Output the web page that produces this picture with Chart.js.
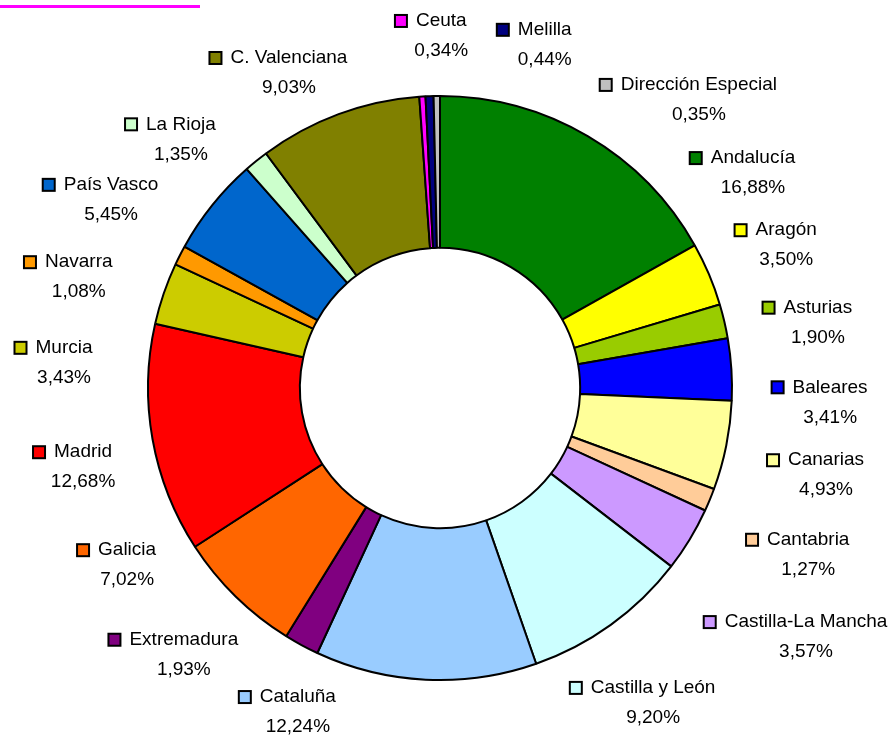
<!DOCTYPE html>
<html>
<head>
<meta charset="utf-8">
<script src="https://cdn.jsdelivr.net/npm/chart.js@4.4.1/dist/chart.umd.min.js"></script>
<style>
  body { margin: 0; background: #fff; }
  #wrap { position: relative; width: 894px; height: 736px; }
  #topLine { position: absolute; left: 0; top: 5px; width: 200px; height: 3px; background: #ff00ff; }
</style>
</head>
<body>
<div id="wrap">
  <div id="topLine"></div>
  <canvas id="chart" width="894" height="736"></canvas>
</div>
<script>
const regiones = ['Andalucía', 'Aragón', 'Asturias', 'Baleares', 'Canarias', 'Cantabria',
  'Castilla-La Mancha', 'Castilla y León', 'Cataluña', 'Extremadura', 'Galicia', 'Madrid',
  'Murcia', 'Navarra', 'País Vasco', 'La Rioja', 'C. Valenciana', 'Ceuta', 'Melilla',
  'Dirección Especial'];
const porcentajes = [16.88, 3.50, 1.90, 3.41, 4.93, 1.27, 3.57, 9.20, 12.24, 1.93, 7.02, 12.68,
  3.43, 1.08, 5.45, 1.35, 9.03, 0.34, 0.44, 0.35];
const colores = ['#008000', '#ffff00', '#99cc00', '#0000ff', '#ffff99', '#ffcc99', '#cc99ff',
  '#ccffff', '#99ccff', '#800080', '#ff6600', '#ff0000', '#cccc00', '#ff9900', '#0066cc',
  '#ccffcc', '#808000', '#ff00ff', '#000080', '#c0c0c0'];

// posición de cada etiqueta: ángulo (grados, desde arriba, horario) y distancia en radios
const etiquetaAngulo = [53.7, 65.5, 78.0, 89.9, 100.6, 112.4, 122.6, 144.6, 204.7, 225.5,
  242.6, 259.8, 276.1, 289.2, 301.7, 315.5, 335.4, 0.2, 16.3, 40.5];
const etiquetaDist = [1.33, 1.303, 1.323, 1.336, 1.345, 1.364, 1.488, 1.26, 1.165, 1.23,
  1.207, 1.242, 1.295, 1.31, 1.324, 1.266, 1.243, 1.257, 1.278, 1.365];

const fuente = '19px "Liberation Sans", Arial, sans-serif';

const etiquetas = {
  id: 'etiquetas',
  afterDatasetsDraw(chart) {
    const ctx = chart.ctx;
    const arcs = chart.getDatasetMeta(0).data;
    if (!arcs.length) return;
    const cx = arcs[0].x, cy = arcs[0].y, r = arcs[0].outerRadius;
    ctx.save();
    ctx.font = fuente;
    ctx.textAlign = 'center';
    ctx.textBaseline = 'middle';
    regiones.forEach(function (nombre, i) {
      const a = etiquetaAngulo[i] * Math.PI / 180;
      const x = cx + Math.sin(a) * r * etiquetaDist[i];
      const y = cy - Math.cos(a) * r * etiquetaDist[i];
      const w = ctx.measureText(nombre).width;
      // cuadradito de color
      const sq = 12;
      const sx = x - w / 2 - 9 - sq;
      ctx.fillStyle = colores[i];
      ctx.fillRect(sx, y - sq / 2, sq, sq);
      ctx.lineWidth = 2;
      ctx.strokeStyle = '#000';
      ctx.strokeRect(sx, y - sq / 2, sq, sq);
      ctx.fillStyle = '#000';
      ctx.fillText(nombre, x, y);
      ctx.fillText(porcentajes[i].toFixed(2).replace('.', ',') + '%', x, y + 30);
    });
    ctx.restore();
  }
};

new Chart(document.getElementById('chart'), {
  type: 'doughnut',
  data: {
    labels: regiones,
    datasets: [{
      data: porcentajes,
      backgroundColor: colores,
      borderColor: '#000',
      borderWidth: 2,
      hoverOffset: 0
    }]
  },
  options: {
    responsive: false,
    animation: false,
    cutout: '48%',
    layout: { padding: { left: 147, right: 161, top: 95, bottom: 55 } },
    plugins: {
      legend: { display: false },
      tooltip: { enabled: false }
    }
  },
  plugins: [etiquetas]
});
</script>
</body>
</html>
